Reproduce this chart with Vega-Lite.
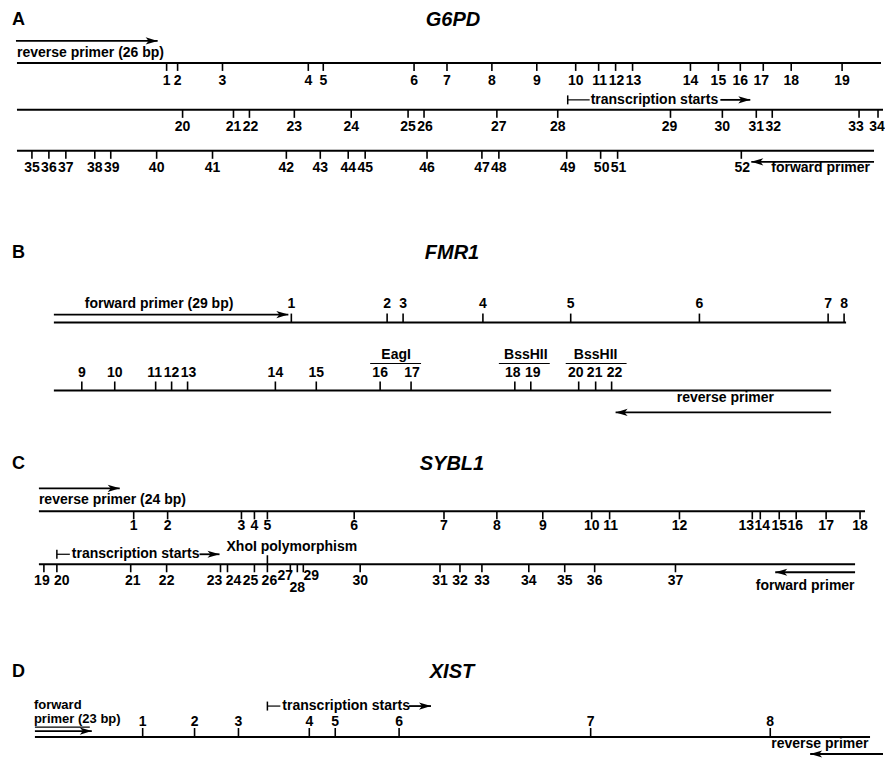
{
  "$schema": "https://vega.github.io/schema/vega-lite/v6.json",
  "width": 885,
  "height": 758,
  "autosize": {"type": "fit", "contains": "padding"},
  "padding": 0,
  "background": "white",
  "config": {
    "view": {"stroke": null},
    "text": {"font": "Liberation Sans", "fontWeight": "bold", "fontSize": 14, "color": "#000", "baseline": "middle"}
  },
  "datasets": {
    "segs": [
      {"x": 17, "x2": 883, "y": 63, "k": "main"},
      {"x": 17, "x2": 885, "y": 110, "k": "main"},
      {"x": 17, "x2": 876, "y": 151, "k": "main"},
      {"x": 54, "x2": 848, "y": 323, "k": "main"},
      {"x": 54, "x2": 833, "y": 391, "k": "main"},
      {"x": 39, "x2": 867, "y": 512, "k": "main"},
      {"x": 39, "x2": 857, "y": 565, "k": "main"},
      {"x": 35, "x2": 872, "y": 738, "k": "main"},
      {"x": 35, "x2": 90, "y": 728, "k": "thin"},
      {"x": 569, "x2": 591, "y": 100, "k": "thin"},
      {"x": 57, "x2": 70, "y": 555, "k": "thin"},
      {"x": 268, "x2": 281, "y": 707, "k": "thin"},
      {"x": 371, "x2": 422, "y": 364, "k": "thin"},
      {"x": 500, "x2": 551, "y": 364, "k": "thin"},
      {"x": 567, "x2": 628, "y": 364, "k": "thin"}
    ],
    "arrows": [
      {"x": 16, "x2": 158, "y": 41, "dir": "right"},
      {"x": 876, "x2": 753, "y": 162, "dir": "left"},
      {"x": 722, "x2": 752, "y": 100, "dir": "right"},
      {"x": 54, "x2": 289, "y": 315, "dir": "right"},
      {"x": 833, "x2": 617, "y": 413, "dir": "left"},
      {"x": 39, "x2": 120, "y": 489, "dir": "right"},
      {"x": 200, "x2": 220, "y": 555, "dir": "right"},
      {"x": 857, "x2": 777, "y": 573, "dir": "left"},
      {"x": 35, "x2": 92, "y": 732, "dir": "right"},
      {"x": 410, "x2": 432, "y": 707, "dir": "right"},
      {"x": 885, "x2": 812, "y": 755, "dir": "left"}
    ],
    "bars": [
      {"x": 569, "y": 100},
      {"x": 57, "y": 555},
      {"x": 268, "y": 707}
    ],
    "sites": [
      {"n": "1", "x": 167, "y": 63, "d": "down", "lx": 167, "ly": 81},
      {"n": "2", "x": 178, "y": 63, "d": "down", "lx": 178, "ly": 81},
      {"n": "3", "x": 223, "y": 63, "d": "down", "lx": 223, "ly": 81},
      {"n": "4", "x": 309, "y": 63, "d": "down", "lx": 309, "ly": 81},
      {"n": "5", "x": 324, "y": 63, "d": "down", "lx": 324, "ly": 81},
      {"n": "6", "x": 415, "y": 63, "d": "down", "lx": 415, "ly": 81},
      {"n": "7", "x": 448, "y": 63, "d": "down", "lx": 448, "ly": 81},
      {"n": "8", "x": 493, "y": 63, "d": "down", "lx": 493, "ly": 81},
      {"n": "9", "x": 538, "y": 63, "d": "down", "lx": 538, "ly": 81},
      {"n": "10", "x": 577, "y": 63, "d": "down", "lx": 577, "ly": 81},
      {"n": "11", "x": 600, "y": 63, "d": "down", "lx": 601, "ly": 81},
      {"n": "12", "x": 617, "y": 63, "d": "down", "lx": 618, "ly": 81},
      {"n": "13", "x": 634, "y": 63, "d": "down", "lx": 635, "ly": 81},
      {"n": "14", "x": 692, "y": 63, "d": "down", "lx": 692, "ly": 81},
      {"n": "15", "x": 720, "y": 63, "d": "down", "lx": 720, "ly": 81},
      {"n": "16", "x": 742, "y": 63, "d": "down", "lx": 742, "ly": 81},
      {"n": "17", "x": 765, "y": 63, "d": "down", "lx": 763, "ly": 81},
      {"n": "18", "x": 793, "y": 63, "d": "down", "lx": 793, "ly": 81},
      {"n": "19", "x": 844, "y": 63, "d": "down", "lx": 844, "ly": 81},
      {"n": "20", "x": 183, "y": 110, "d": "down", "lx": 183, "ly": 127},
      {"n": "21", "x": 234, "y": 110, "d": "down", "lx": 234, "ly": 127},
      {"n": "22", "x": 250, "y": 110, "d": "down", "lx": 251, "ly": 127},
      {"n": "23", "x": 295, "y": 110, "d": "down", "lx": 295, "ly": 127},
      {"n": "24", "x": 352, "y": 110, "d": "down", "lx": 352, "ly": 127},
      {"n": "25", "x": 409, "y": 110, "d": "down", "lx": 409, "ly": 127},
      {"n": "26", "x": 425, "y": 110, "d": "down", "lx": 426, "ly": 127},
      {"n": "27", "x": 498, "y": 110, "d": "down", "lx": 500, "ly": 127},
      {"n": "28", "x": 559, "y": 110, "d": "down", "lx": 559, "ly": 127},
      {"n": "29", "x": 672, "y": 110, "d": "down", "lx": 671, "ly": 127},
      {"n": "30", "x": 724, "y": 110, "d": "down", "lx": 724, "ly": 127},
      {"n": "31", "x": 758, "y": 110, "d": "down", "lx": 758, "ly": 127},
      {"n": "32", "x": 774, "y": 110, "d": "down", "lx": 775, "ly": 127},
      {"n": "33", "x": 861, "y": 110, "d": "down", "lx": 858, "ly": 127},
      {"n": "34", "x": 880, "y": 110, "d": "down", "lx": 879, "ly": 127},
      {"n": "35", "x": 32, "y": 151, "d": "down", "lx": 32, "ly": 168},
      {"n": "36", "x": 49, "y": 151, "d": "down", "lx": 49, "ly": 168},
      {"n": "37", "x": 66, "y": 151, "d": "down", "lx": 66, "ly": 168},
      {"n": "38", "x": 95, "y": 151, "d": "down", "lx": 95, "ly": 168},
      {"n": "39", "x": 111, "y": 151, "d": "down", "lx": 112, "ly": 168},
      {"n": "40", "x": 157, "y": 151, "d": "down", "lx": 157, "ly": 168},
      {"n": "41", "x": 213, "y": 151, "d": "down", "lx": 213, "ly": 168},
      {"n": "42", "x": 287, "y": 151, "d": "down", "lx": 287, "ly": 168},
      {"n": "43", "x": 321, "y": 151, "d": "down", "lx": 321, "ly": 168},
      {"n": "44", "x": 349, "y": 151, "d": "down", "lx": 349, "ly": 168},
      {"n": "45", "x": 366, "y": 151, "d": "down", "lx": 366, "ly": 168},
      {"n": "46", "x": 428, "y": 151, "d": "down", "lx": 428, "ly": 168},
      {"n": "47", "x": 483, "y": 151, "d": "down", "lx": 483, "ly": 168},
      {"n": "48", "x": 500, "y": 151, "d": "down", "lx": 500, "ly": 168},
      {"n": "49", "x": 568, "y": 151, "d": "down", "lx": 569, "ly": 168},
      {"n": "50", "x": 602, "y": 151, "d": "down", "lx": 603, "ly": 168},
      {"n": "51", "x": 619, "y": 151, "d": "down", "lx": 620, "ly": 168},
      {"n": "52", "x": 743, "y": 151, "d": "down", "lx": 744, "ly": 168},
      {"n": "1", "x": 292, "y": 323, "d": "up", "lx": 292, "ly": 304},
      {"n": "2", "x": 388, "y": 323, "d": "up", "lx": 388, "ly": 304},
      {"n": "3", "x": 404, "y": 323, "d": "up", "lx": 404, "ly": 304},
      {"n": "4", "x": 484, "y": 323, "d": "up", "lx": 484, "ly": 304},
      {"n": "5", "x": 572, "y": 323, "d": "up", "lx": 572, "ly": 304},
      {"n": "6", "x": 701, "y": 323, "d": "up", "lx": 701, "ly": 304},
      {"n": "7", "x": 830, "y": 323, "d": "up", "lx": 830, "ly": 304},
      {"n": "8", "x": 846, "y": 323, "d": "up", "lx": 846, "ly": 304},
      {"n": "9", "x": 82, "y": 391, "d": "up", "lx": 82, "ly": 373},
      {"n": "10", "x": 115, "y": 391, "d": "up", "lx": 115, "ly": 373},
      {"n": "11", "x": 156, "y": 391, "d": "up", "lx": 155, "ly": 373},
      {"n": "12", "x": 172, "y": 391, "d": "up", "lx": 172, "ly": 373},
      {"n": "13", "x": 188, "y": 391, "d": "up", "lx": 189, "ly": 373},
      {"n": "14", "x": 276, "y": 391, "d": "up", "lx": 276, "ly": 373},
      {"n": "15", "x": 317, "y": 391, "d": "up", "lx": 317, "ly": 373},
      {"n": "16", "x": 381, "y": 391, "d": "up", "lx": 381, "ly": 373},
      {"n": "17", "x": 412, "y": 391, "d": "up", "lx": 413, "ly": 373},
      {"n": "18", "x": 516, "y": 391, "d": "up", "lx": 514, "ly": 373},
      {"n": "19", "x": 532, "y": 391, "d": "up", "lx": 534, "ly": 373},
      {"n": "20", "x": 580, "y": 391, "d": "up", "lx": 577, "ly": 373},
      {"n": "21", "x": 597, "y": 391, "d": "up", "lx": 596, "ly": 373},
      {"n": "22", "x": 613, "y": 391, "d": "up", "lx": 616, "ly": 373},
      {"n": "1", "x": 134, "y": 512, "d": "down", "lx": 134, "ly": 527},
      {"n": "2", "x": 168, "y": 512, "d": "down", "lx": 168, "ly": 527},
      {"n": "3", "x": 242, "y": 512, "d": "down", "lx": 242, "ly": 527},
      {"n": "4", "x": 255, "y": 512, "d": "down", "lx": 255, "ly": 527},
      {"n": "5", "x": 268, "y": 512, "d": "down", "lx": 268, "ly": 527},
      {"n": "6", "x": 355, "y": 512, "d": "down", "lx": 355, "ly": 527},
      {"n": "7", "x": 445, "y": 512, "d": "down", "lx": 445, "ly": 527},
      {"n": "8", "x": 498, "y": 512, "d": "down", "lx": 498, "ly": 527},
      {"n": "9", "x": 544, "y": 512, "d": "down", "lx": 544, "ly": 527},
      {"n": "10", "x": 593, "y": 512, "d": "down", "lx": 593, "ly": 527},
      {"n": "11", "x": 611, "y": 512, "d": "down", "lx": 612, "ly": 527},
      {"n": "12", "x": 681, "y": 512, "d": "down", "lx": 681, "ly": 527},
      {"n": "13", "x": 754, "y": 512, "d": "down", "lx": 748, "ly": 527},
      {"n": "14", "x": 762, "y": 512, "d": "down", "lx": 764, "ly": 527},
      {"n": "15", "x": 781, "y": 512, "d": "down", "lx": 781, "ly": 527},
      {"n": "16", "x": 798, "y": 512, "d": "down", "lx": 797, "ly": 527},
      {"n": "17", "x": 828, "y": 512, "d": "down", "lx": 828, "ly": 527},
      {"n": "18", "x": 862, "y": 512, "d": "down", "lx": 862, "ly": 527},
      {"n": "19", "x": 44, "y": 565, "d": "down", "lx": 42, "ly": 582},
      {"n": "20", "x": 57, "y": 565, "d": "down", "lx": 62, "ly": 582},
      {"n": "21", "x": 131, "y": 565, "d": "down", "lx": 133, "ly": 582},
      {"n": "22", "x": 167, "y": 565, "d": "down", "lx": 167, "ly": 582},
      {"n": "23", "x": 221, "y": 565, "d": "down", "lx": 215, "ly": 582},
      {"n": "24", "x": 228, "y": 565, "d": "down", "lx": 234, "ly": 582},
      {"n": "25", "x": 255, "y": 565, "d": "down", "lx": 251, "ly": 582},
      {"n": "26", "x": 268, "y": 565, "d": "down", "lx": 270, "ly": 582},
      {"n": "27", "x": 291, "y": 565, "d": "down", "lx": 286, "ly": 577},
      {"n": "28", "x": 298, "y": 565, "d": "down", "lx": 298, "ly": 589},
      {"n": "29", "x": 304, "y": 565, "d": "down", "lx": 312, "ly": 577},
      {"n": "30", "x": 361, "y": 565, "d": "down", "lx": 361, "ly": 582},
      {"n": "31", "x": 441, "y": 565, "d": "down", "lx": 441, "ly": 582},
      {"n": "32", "x": 461, "y": 565, "d": "down", "lx": 461, "ly": 582},
      {"n": "33", "x": 483, "y": 565, "d": "down", "lx": 483, "ly": 582},
      {"n": "34", "x": 530, "y": 565, "d": "down", "lx": 530, "ly": 582},
      {"n": "35", "x": 566, "y": 565, "d": "down", "lx": 566, "ly": 582},
      {"n": "36", "x": 596, "y": 565, "d": "down", "lx": 596, "ly": 582},
      {"n": "37", "x": 677, "y": 565, "d": "down", "lx": 677, "ly": 582},
      {"n": "", "x": 268, "y": 565, "d": "up", "lx": 268, "ly": 548},
      {"n": "1", "x": 143, "y": 738, "d": "up", "lx": 143, "ly": 723},
      {"n": "2", "x": 195, "y": 738, "d": "up", "lx": 195, "ly": 723},
      {"n": "3", "x": 239, "y": 738, "d": "up", "lx": 239, "ly": 723},
      {"n": "4", "x": 310, "y": 738, "d": "up", "lx": 310, "ly": 723},
      {"n": "5", "x": 336, "y": 738, "d": "up", "lx": 336, "ly": 723},
      {"n": "6", "x": 400, "y": 738, "d": "up", "lx": 400, "ly": 723},
      {"n": "7", "x": 592, "y": 738, "d": "up", "lx": 592, "ly": 723},
      {"n": "8", "x": 772, "y": 738, "d": "up", "lx": 772, "ly": 723}
    ],
    "texts": [
      {"t": "A", "x": 12, "y": 20, "k": "panel"},
      {"t": "B", "x": 12, "y": 253, "k": "panel"},
      {"t": "C", "x": 12, "y": 465, "k": "panel"},
      {"t": "D", "x": 12, "y": 673, "k": "panel"},
      {"t": "G6PD", "x": 454, "y": 20, "k": "title"},
      {"t": "FMR1", "x": 453, "y": 253, "k": "title"},
      {"t": "SYBL1", "x": 453, "y": 465, "k": "title"},
      {"t": "XIST", "x": 453, "y": 673, "k": "title"},
      {"t": "reverse primer (26 bp)", "x": 17, "y": 53, "k": "left"},
      {"t": "transcription starts", "x": 592, "y": 100, "k": "left"},
      {"t": "forward primer", "x": 773, "y": 168, "k": "left"},
      {"t": "forward primer (29 bp)", "x": 85, "y": 304, "k": "left"},
      {"t": "EagI", "x": 397, "y": 355, "k": "center"},
      {"t": "BssHII", "x": 527, "y": 355, "k": "center"},
      {"t": "BssHII", "x": 597, "y": 355, "k": "center"},
      {"t": "reverse primer", "x": 727, "y": 399, "k": "center"},
      {"t": "reverse primer (24 bp)", "x": 39, "y": 501, "k": "left"},
      {"t": "transcription starts", "x": 72, "y": 555, "k": "left"},
      {"t": "XhoI polymorphism", "x": 227, "y": 548, "k": "left"},
      {"t": "forward primer", "x": 807, "y": 587, "k": "center"},
      {"t": "forward", "x": 34, "y": 706, "k": "small"},
      {"t": "primer (23 bp)", "x": 34, "y": 720, "k": "small"},
      {"t": "transcription starts", "x": 283, "y": 707, "k": "left"},
      {"t": "reverse primer", "x": 773, "y": 745, "k": "left"}
    ]
  },
  "layer": [
    {
      "data": {"name": "segs"},
      "mark": {"type": "rule", "color": "#000"},
      "encoding": {
        "x": {"field": "x", "type": "quantitative", "scale": {"domain": [0, 885], "nice": false, "zero": false}, "axis": null},
        "x2": {"field": "x2"},
        "y": {"field": "y", "type": "quantitative", "scale": {"domain": [0, 758], "reverse": true, "nice": false, "zero": false}, "axis": null},
        "strokeWidth": {"field": "k", "type": "nominal", "scale": {"domain": ["main", "thin"], "range": [2, 1.2]}, "legend": null}
      }
    },
    {
      "data": {"name": "arrows"},
      "mark": {"type": "rule", "color": "#000", "strokeWidth": 1.8},
      "encoding": {
        "x": {"field": "x", "type": "quantitative", "axis": null},
        "x2": {"field": "x2"},
        "y": {"field": "y", "type": "quantitative", "axis": null}
      }
    },
    {
      "data": {"name": "arrows"},
      "mark": {"type": "point", "filled": true, "color": "#000", "size": 144, "opacity": 1},
      "encoding": {
        "x": {"field": "x2", "type": "quantitative", "axis": null},
        "y": {"field": "y", "type": "quantitative", "axis": null},
        "shape": {"field": "dir", "type": "nominal", "scale": {"domain": ["right", "left"], "range": ["M-2,-0.6L0,0L-2,0.6L-1.5,0Z", "M2,-0.6L0,0L2,0.6L1.5,0Z"]}, "legend": null}
      }
    },
    {
      "data": {"name": "bars"},
      "mark": {"type": "tick", "orient": "vertical", "color": "#000", "size": 9, "thickness": 1.5, "opacity": 1},
      "encoding": {
        "x": {"field": "x", "type": "quantitative", "axis": null},
        "y": {"field": "y", "type": "quantitative", "axis": null}
      }
    },
    {
      "data": {"name": "sites"},
      "transform": [{"filter": "datum.d == 'down'"}],
      "mark": {"type": "tick", "orient": "vertical", "color": "#000", "size": 8, "thickness": 1.6, "yOffset": 4, "opacity": 1},
      "encoding": {
        "x": {"field": "x", "type": "quantitative", "axis": null},
        "y": {"field": "y", "type": "quantitative", "axis": null}
      }
    },
    {
      "data": {"name": "sites"},
      "transform": [{"filter": "datum.d == 'up'"}],
      "mark": {"type": "tick", "orient": "vertical", "color": "#000", "size": 9, "thickness": 1.6, "yOffset": -4.5, "opacity": 1},
      "encoding": {
        "x": {"field": "x", "type": "quantitative", "axis": null},
        "y": {"field": "y", "type": "quantitative", "axis": null}
      }
    },
    {
      "data": {"name": "sites"},
      "mark": {"type": "text", "align": "center"},
      "encoding": {
        "x": {"field": "lx", "type": "quantitative", "axis": null},
        "y": {"field": "ly", "type": "quantitative", "axis": null},
        "text": {"field": "n"}
      }
    },
    {
      "data": {"name": "texts"},
      "transform": [{"filter": "datum.k == 'left'"}],
      "mark": {"type": "text", "align": "left"},
      "encoding": {
        "x": {"field": "x", "type": "quantitative", "axis": null},
        "y": {"field": "y", "type": "quantitative", "axis": null},
        "text": {"field": "t"}
      }
    },
    {
      "data": {"name": "texts"},
      "transform": [{"filter": "datum.k == 'small'"}],
      "mark": {"type": "text", "align": "left", "fontSize": 13},
      "encoding": {
        "x": {"field": "x", "type": "quantitative", "axis": null},
        "y": {"field": "y", "type": "quantitative", "axis": null},
        "text": {"field": "t"}
      }
    },
    {
      "data": {"name": "texts"},
      "transform": [{"filter": "datum.k == 'center'"}],
      "mark": {"type": "text", "align": "center"},
      "encoding": {
        "x": {"field": "x", "type": "quantitative", "axis": null},
        "y": {"field": "y", "type": "quantitative", "axis": null},
        "text": {"field": "t"}
      }
    },
    {
      "data": {"name": "texts"},
      "transform": [{"filter": "datum.k == 'panel'"}],
      "mark": {"type": "text", "align": "left", "fontSize": 18},
      "encoding": {
        "x": {"field": "x", "type": "quantitative", "axis": null},
        "y": {"field": "y", "type": "quantitative", "axis": null},
        "text": {"field": "t"}
      }
    },
    {
      "data": {"name": "texts"},
      "transform": [{"filter": "datum.k == 'title'"}],
      "mark": {"type": "text", "align": "center", "fontSize": 20, "fontStyle": "italic"},
      "encoding": {
        "x": {"field": "x", "type": "quantitative", "axis": null},
        "y": {"field": "y", "type": "quantitative", "axis": null},
        "text": {"field": "t"}
      }
    }
  ]
}
